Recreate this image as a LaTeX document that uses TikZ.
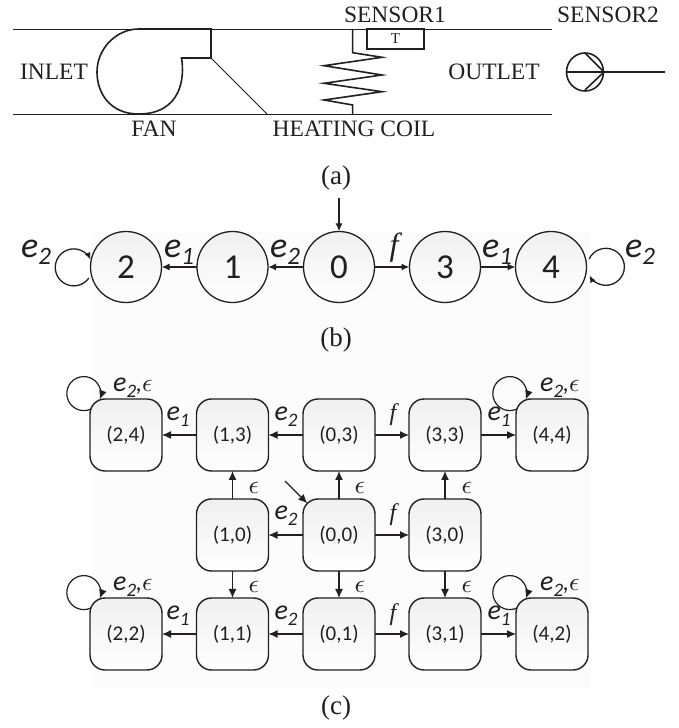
\documentclass[tikz,border=0pt]{standalone}
\usepackage{fontspec}
\usepackage{graphicx}
\setmainfont{Liberation Serif}
\newfontfamily\carl{Carlito}
\usetikzlibrary{arrows.meta,shapes.geometric}
\definecolor{ink}{HTML}{231F20}
\newcommand{\fsz}[1]{\fontsize{#1}{#1}\selectfont}
\newcommand{\ecar}[1]{{\carl\itshape\fsz{28}e\raisebox{-0.2em}{\fsz{19}#1}}}
\newcommand{\bigE}[1]{{\carl\itshape\fsz{36}e\raisebox{-0.2em}{\fsz{25}#1}}}
\newcommand{\eps}{\scalebox{2.6}{$\epsilon$}}
\newcommand{\ecomma}{{\carl\itshape\fsz{24},}}
\tikzset{
  x=1pt,y=1pt,
  every node/.style={text=ink},
  duct/.style={line width=0.8pt,draw=ink},
  part/.style={line width=1.6pt,draw=ink,line join=miter},
  plain/.style={font=\fsz{23.5},inner sep=0pt},
  captext/.style={font=\fsz{27},inner sep=0pt},
  oval/.style={circle,draw=ink,line width=1.3pt,minimum size=71pt,inner sep=0pt,outer sep=0pt,top color=black!6,bottom color=white,font=\carl\fsz{35}},
  sq/.style={rectangle,rounded corners=15pt,draw=ink,line width=1.4pt,minimum size=72pt,inner sep=0pt,outer sep=0pt,top color=black!6,bottom color=white,font=\carl\fsz{21}},
  barc/.style={draw=ink,line width=1.7pt,-{Latex[length=8pt,width=7pt]}},
  barl/.style={draw=ink,line width=1.3pt,-{Latex[length=7pt,width=6pt]}},
  carc/.style={draw=ink,line width=1.2pt,-{Latex[length=9pt,width=8pt]}},
  lab/.style={inner sep=0pt},
}
\begin{document}
\begin{tikzpicture}
\useasboundingbox (0,0) rectangle (678,728);
\fill[black!1] (92,40) rectangle (590,496);

% (a) plant
\draw[duct] (13,699) -- (552,699);
\draw[duct] (13,614) -- (552,614);
\draw[duct] (211,670) -- (267,614);
\draw[part] (138.5,699) -- (211,699) -- (211,670) -- (181.5,670)
  .. controls (185,650) and (181,614) .. (138.5,614)
  .. controls (110,614) and (97,635) .. (97,656)
  .. controls (97,680) and (117,699) .. (138.5,699);
\draw[part] (352.6,699) -- (352.6,675.3) -- (382,670.7) -- (324,662.3) -- (382,653) -- (324,644.7) -- (382,636.3) -- (324,628) -- (352.6,623) -- (352.6,614);
\draw[part] (367,699) rectangle (424,679);
\node[font=\fsz{15},inner sep=0pt] (tlabel) at (395.5,689) {T};
\node[plain] (sone) at (395,713) {SENSOR1};
\node[plain] (stwo) at (608,713) {SENSOR2};
\node[plain] (inlet) at (54,656) {INLET};
\node[plain] (outlet) at (494,656) {OUTLET};
\node[plain] (fan) at (154,599) {FAN};
\node[plain] (coil) at (354,599) {HEATING COIL};
\draw[part] (585,656) ellipse [x radius=18.5,y radius=19];
\draw[part] (566.5,656) -- (665,656);
\draw[part] (585,675) -- (604,656) -- (585,638);
\node[captext] (capa) at (336,550) {(a)};

% (b) automaton
\node[oval] (b2) at (126,461) {2};
\node[oval] (b1) at (232.5,461) {1};
\node[oval] (b0) at (339,461) {0};
\node[oval] (b3) at (445,461) {3};
\node[oval] (b4) at (551,461) {4};
\coordinate (binit) at (339,530);
\draw[barc] (binit) -- (b0);
\draw[barc] (b1) -- (b2);
\draw[barc] (b0) -- (b1);
\draw[barc] (b0) -- (b3);
\draw[barc] (b3) -- (b4);
\draw[barl] ([shift={(-1.6,-11)}]b2.west) arc[start angle=-35,end angle=-335,radius=18.5];
\draw[barl] ([shift={(2.6,8)}]b4.east) arc[start angle=155,end angle=-152,radius=18.5];
\node[lab] (be2l) at (36,476) {\bigE{2}};
\node[lab] (be1l) at (179,476) {\bigE{1}};
\node[lab] (be2m) at (285,476) {\bigE{2}};
\node[lab,font=\fsz{32}\itshape] (bf) at (394,480) {f};
\node[lab] (be1r) at (497,476) {\bigE{1}};
\node[lab] (be2r) at (640,476) {\bigE{2}};
\node[captext] (capb) at (336,388) {(b)};

% (c) product automaton
\node[sq] (n24) at (126,293) {(2,4)};
\node[sq] (n13) at (232.5,293) {(1,3)};
\node[sq] (n03) at (339,293) {(0,3)};
\node[sq] (n33) at (445,293) {(3,3)};
\node[sq] (n44) at (552,293) {(4,4)};
\node[sq] (n10) at (232.5,193) {(1,0)};
\node[sq] (n00) at (339,193) {(0,0)};
\node[sq] (n30) at (445,193) {(3,0)};
\node[sq] (n22) at (126,94) {(2,2)};
\node[sq] (n11) at (232.5,94) {(1,1)};
\node[sq] (n01) at (339,94) {(0,1)};
\node[sq] (n31) at (445,94) {(3,1)};
\node[sq] (n42) at (552,94) {(4,2)};
\draw[carc] (n13) -- (n24);
\draw[carc] (n03) -- (n13);
\draw[carc] (n03) -- (n33);
\draw[carc] (n33) -- (n44);
\draw[carc] (n00) -- (n10);
\draw[carc] (n00) -- (n30);
\draw[carc] (n11) -- (n22);
\draw[carc] (n01) -- (n11);
\draw[carc] (n01) -- (n31);
\draw[carc] (n31) -- (n42);
\draw[carc] (n10) -- (n13);
\draw[carc] (n00) -- (n03);
\draw[carc] (n30) -- (n33);
\draw[carc] (n10) -- (n11);
\draw[carc] (n00) -- (n01);
\draw[carc] (n30) -- (n31);
\coordinate (cinit) at (285,247);
\draw[carc,shorten >=-6pt] (cinit) -- (n00.north west);
\foreach \n in {n24,n44,n22,n42}{
  \draw[carc] ([shift={(1,-10)}]\n.north west) arc[start angle=-65,end angle=-380,radius=17];
}
\node[lab] (l1) at (178,311) {\ecar{1}};
\node[lab] (l2) at (286,311) {\ecar{2}};
\node[lab,font=\fsz{24}\itshape] (l3) at (393,313) {f};
\node[lab] (l4) at (499,311) {\ecar{1}};
\node[lab] (l5) at (133,340) {\ecar{2}\ecomma\eps};
\node[lab] (l6) at (560,340) {\ecar{2}\ecomma\eps};
\node[lab] (l7) at (254,240) {\eps};
\node[lab] (l8) at (360,240) {\eps};
\node[lab] (l9) at (467,240) {\eps};
\node[lab] (l10) at (286,212) {\ecar{2}};
\node[lab,font=\fsz{24}\itshape] (l11) at (393,213) {f};
\node[lab] (l12) at (254,141) {\eps};
\node[lab] (l13) at (360,141) {\eps};
\node[lab] (l14) at (467,141) {\eps};
\node[lab] (l15) at (133,141) {\ecar{2}\ecomma\eps};
\node[lab] (l16) at (560,141) {\ecar{2}\ecomma\eps};
\node[lab] (l17) at (178,112) {\ecar{1}};
\node[lab] (l18) at (286,112) {\ecar{2}};
\node[lab,font=\fsz{24}\itshape] (l19) at (393,113) {f};
\node[lab] (l20) at (499,112) {\ecar{1}};
\node[captext] (capc) at (336,20) {(c)};
\end{tikzpicture}
\end{document}
